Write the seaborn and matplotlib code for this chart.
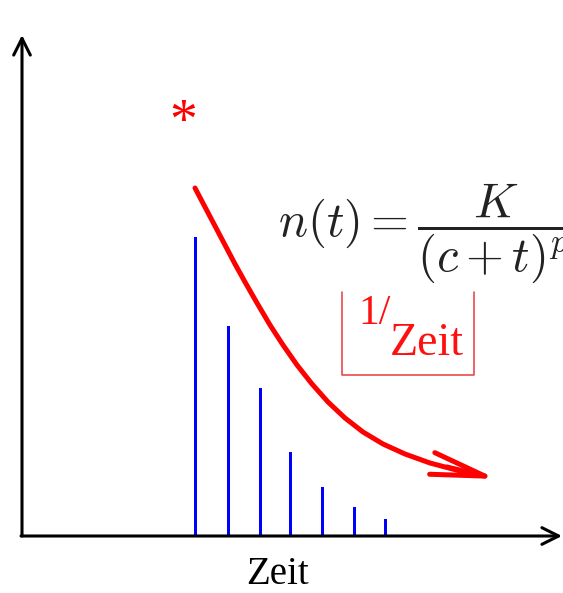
import matplotlib
matplotlib.use("Agg")
import matplotlib.pyplot as plt
import numpy as np
import pandas as pd
import seaborn as sns

sns.set_theme(style="white")
plt.rcParams["font.family"] = ["Liberation Serif", "DejaVu Serif"]
plt.rcParams["mathtext.fontset"] = "cm"

# Einzelereignisse (Zeitpunkte und Anzahl)
bar_t = [173, 206, 238, 268, 300, 332, 363]
bar_n = [299, 210, 148, 84, 49, 29, 17]

# Abklingkurve
curve_t = [173, 183, 193, 203, 213, 223, 235, 248, 261, 275, 290, 306, 323, 341, 361, 383, 408, 438]
curve_n = [348, 329, 310, 291, 272, 254, 233, 211, 191, 171, 152, 134, 118, 104, 92, 82, 73, 65]
arrow_from = (425, 69)
arrow_to = (475, 57)

# Kasten um 1/Zeit (links, rechts, unten, oben)
box_l, box_r, box_b, box_top = 320, 452, 161, 244

xlim = (-22, 541)
ylim = (-57, 536)

fig = plt.figure(figsize=(5.63, 5.93), dpi=100)
ax = fig.add_axes([0, 0, 1, 1])

df = pd.DataFrame({"t": bar_t, "n": bar_n})
sns.barplot(data=df, x="t", y="n", native_scale=True, width=0.1,
            color="#0000ff", saturation=1, linewidth=0, ax=ax)

sns.lineplot(x=curve_t, y=curve_n, sort=False, color="#ff0000", lw=3.6, ax=ax)
ax.annotate("", xy=arrow_to, xytext=arrow_from,
            arrowprops=dict(arrowstyle="->,head_length=3.9,head_width=0.8",
                            color="#ff0000", lw=3.6, mutation_scale=10,
                            shrinkA=0, shrinkB=0))

# Achsen mit Pfeilen
ax.annotate("", xy=(0, 501), xytext=(0, 0),
            arrowprops=dict(arrowstyle="->,head_length=1.2,head_width=0.6",
                            color="black", lw=2.2, mutation_scale=10,
                            shrinkA=0, shrinkB=0), zorder=5)
ax.annotate("", xy=(540, 0), xytext=(-1, 0),
            arrowprops=dict(arrowstyle="->,head_length=1.2,head_width=0.6",
                            color="black", lw=2.2, mutation_scale=10,
                            shrinkA=0, shrinkB=0), zorder=5)

ax.text(161, 412, "*", color="#ff0000", fontsize=40, ha="center", va="center")
ax.text(256, 303, r"$n(t) = \dfrac{K}{(c+t)^p}$", fontsize=35,
        ha="left", va="center", color="#222222")

ax.plot([box_l, box_l, box_r, box_r], [box_top, box_b, box_b, box_top],
        color="#e83a3a", lw=1.1)
ax.text(336, 241, "1/", color="#ff1010", fontsize=30, ha="left", va="top")
ax.text(368, 181, "Zeit", color="#ff1010", fontsize=33, ha="left", va="baseline")

ax.text(256, -48, "Zeit", color="black", fontsize=28, ha="center", va="baseline")

ax.set_xlim(*xlim)
ax.set_ylim(*ylim)
ax.axis("off")

fig.savefig("out.png", dpi=100)
